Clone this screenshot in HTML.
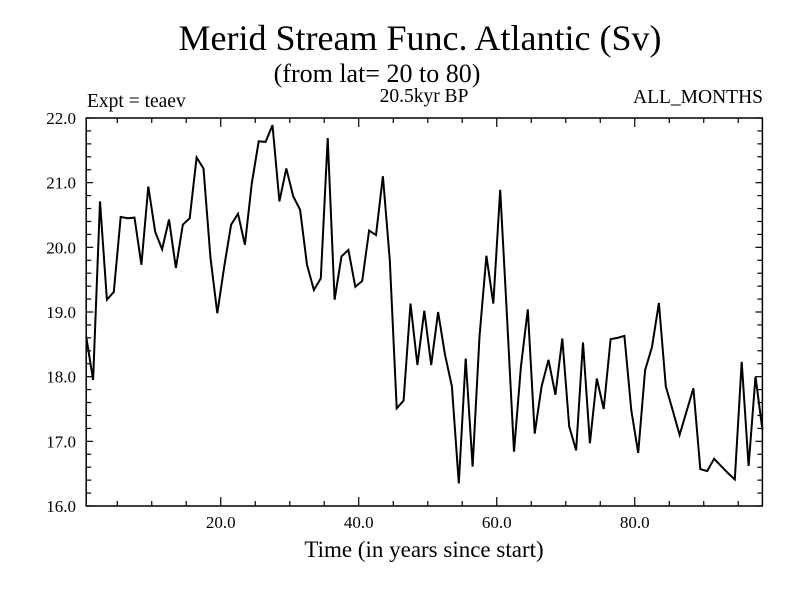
<!DOCTYPE html>
<html><head><meta charset="utf-8"><style>
html,body{margin:0;padding:0;background:#fff}
svg{display:block}
.serif{font-family:"Liberation Serif",serif}
</style></head><body>
<svg id="chart" width="800" height="600" viewBox="0 0 800 600">
<text class="serif" x="420" y="50" font-size="36" text-anchor="middle">Merid Stream Func. Atlantic (Sv)</text>
<text class="serif" x="377" y="82" font-size="26" text-anchor="middle">(from lat= 20 to 80)</text>
<text class="serif" x="87" y="107" font-size="19.5">Expt = teaev</text>
<text class="serif" x="424" y="102" font-size="19.5" text-anchor="middle">20.5kyr BP</text>
<text class="serif" x="763" y="103" font-size="19.5" text-anchor="end">ALL_MONTHS</text>
<text class="serif" x="424" y="557" font-size="23" text-anchor="middle">Time (in years since start)</text>
<g id="axes"></g>
<path id="series" fill="none" stroke="#000" stroke-width="2" stroke-linejoin="miter"/>
<rect x="86.2" y="118" width="676.2" height="388" fill="none" stroke="#000" stroke-width="1.5"/>
</svg>
<script>
const values = [18.62,17.95,20.71,19.19,19.31,20.47,20.45,20.46,19.73,20.94,20.24,19.97,20.43,19.68,20.35,20.45,21.39,21.22,19.85,18.98,19.70,20.35,20.52,20.04,20.99,21.64,21.63,21.89,20.71,21.22,20.79,20.58,19.73,19.34,19.52,21.69,19.19,19.86,19.96,19.39,19.48,20.26,20.19,21.10,19.80,17.51,17.63,19.13,18.18,19.02,18.18,19.00,18.34,17.85,16.35,18.28,16.61,18.62,19.87,19.13,20.89,18.90,16.84,18.15,19.04,17.12,17.85,18.26,17.72,18.59,17.23,16.86,18.53,16.97,17.97,17.50,18.58,18.60,18.63,17.48,16.82,18.10,18.46,19.14,17.85,17.48,17.10,17.46,17.82,16.57,16.54,16.73,16.62,16.51,16.41,18.23,16.62,18.00,17.18];
const xTickLabels = ["20.0","40.0","60.0","80.0"];
const xTickValues = [20,40,60,80];
const yTickLabels = ["16.0","17.0","18.0","19.0","20.0","21.0","22.0"];
const yTickValues = [16,17,18,19,20,21,22];

const X0=86.2,X1=762.4,Y0=506,Y1=118;
const xmin=0.5,xmax=98.5,ymin=16,ymax=22;
const sx=v=>X0+(v-xmin)/(xmax-xmin)*(X1-X0);
const sy=v=>Y0-(v-ymin)/(ymax-ymin)*(Y0-Y1);
const NS="http://www.w3.org/2000/svg";
const axes=document.getElementById('axes');
let d="";
values.forEach((v,i)=>{d+=(i?"L":"M")+sx(i+xmin).toFixed(2)+","+sy(v).toFixed(2);});
document.getElementById('series').setAttribute('d',d);
function line(x1,y1,x2,y2){const l=document.createElementNS(NS,'line');
l.setAttribute('x1',x1);l.setAttribute('y1',y1);l.setAttribute('x2',x2);l.setAttribute('y2',y2);
l.setAttribute('stroke','#000');l.setAttribute('stroke-width','1.2');


axes.appendChild(l);}
for(let t=5;t<xmax;t+=5){const x=sx(t);const len=(t%20===0)?9:5;line(x,Y0,x,Y0-len);line(x,Y1,x,Y1+len);}
for(let k=0;k<=30;k++){const v=ymin+k*0.2;const y=sy(v);const len=(k%5===0)?7:5;line(X0,y,X0+len,y);line(X1,y,X1-len,y);}
xTickValues.forEach((v,i)=>{const t=document.createElementNS(NS,'text');
t.setAttribute('x',sx(v));t.setAttribute('y',528);t.setAttribute('text-anchor','middle');
t.setAttribute('class','serif');t.setAttribute('font-size','17');t.textContent=xTickLabels[i];


axes.appendChild(t);});
yTickValues.forEach((v,i)=>{const t=document.createElementNS(NS,'text');
t.setAttribute('x',76);t.setAttribute('y',sy(v)+6);t.setAttribute('text-anchor','end');
t.setAttribute('class','serif');t.setAttribute('font-size','17');t.textContent=yTickLabels[i];


axes.appendChild(t);});
</script>
</body></html>
